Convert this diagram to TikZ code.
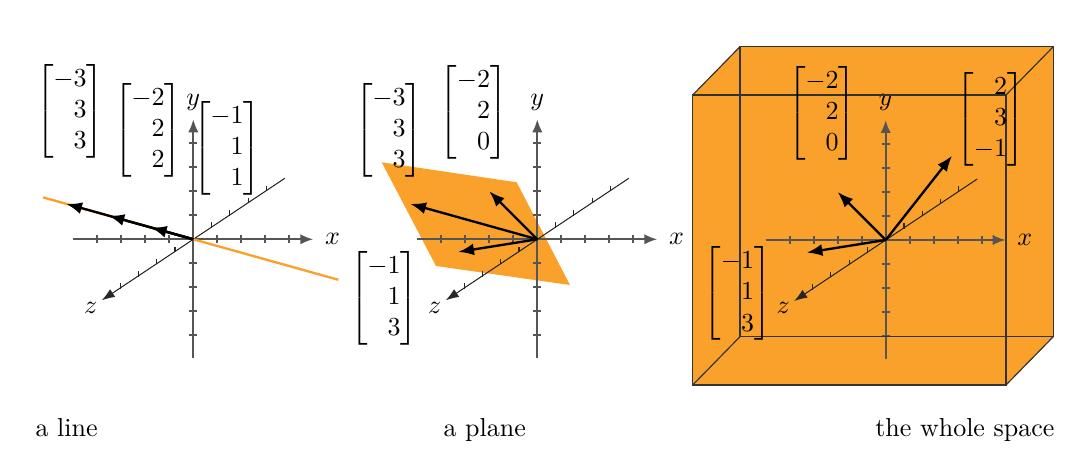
\documentclass[tikz,border=0pt]{standalone}
\usepackage{mathtools}
\usetikzlibrary{arrows.meta}
\definecolor{orng}{RGB}{249,161,43}
\definecolor{axgray}{RGB}{85,85,85}
\tikzset{
  axisline/.style={draw=axgray, line width=0.8pt},
  axarrow/.style={-{Latex[length=5pt,width=4pt]}},
  zaxisline/.style={draw=black!85, line width=0.4pt},
  zarrow/.style={-{Latex[length=5pt,width=3.6pt]}},
  vec/.style={draw=black, line width=0.9pt, -{Latex[length=6pt,width=4.6pt]}},
  lbl/.style={inner sep=0pt},
  mat/.style={inner sep=0pt},
  captxt/.style={inner sep=0pt},
  boxedge/.style={draw=black!80, line width=0.45pt},
  threed/.style={x={(9.2308pt,0pt)}, y={(0pt,9.2308pt)}, z={(-7.038pt,-4.692pt)}}
}
\newcommand{\myaxes}[1]{%
  \draw[axisline,axarrow] (-5,0,0) -- (5,0,0);
  \draw[axisline,axarrow] (0,-4.95,0) -- (0,5,0);
  \foreach \i in {-4,-3,-2,-1,1,2,3,4} {
    \draw[axisline] (\i,-0.17,0) -- (\i,0.17,0);
    \draw[axisline] (-0.17,\i,0) -- (0.17,\i,0);
    \draw[zaxisline] (0,-0.03,\i) -- (0,0.2,\i);
  }
  \draw[zaxisline,zarrow] (0,0,-5) -- (0,0,5);
  \node[lbl] (#1x) at (5.8,0,0) {$x$};
  \node[lbl] (#1y) at (0,5.72,0) {$y$};
  \node[lbl] (#1z) at (0,0,5.6) {$z$};
}
\begin{document}
\begin{tikzpicture}[x=0.384615pt,y=-0.384615pt]
\useasboundingbox (0,0) rectangle (1088,451);

% ---------- left panel: a line ----------
\coordinate (O1) at (193.3,239.3);
\begin{scope}[shift={(O1)}, threed]
  \myaxes{L}
  \draw[orng, line width=0.9pt] (-3.55,3.55,3.55) -- (3.43,-3.43,-3.43);
  \coordinate (Lo) at (0,0,0);
  \coordinate (La) at (-3,3,3);
  \coordinate (Lb) at (-2,2,2);
  \coordinate (Lc) at (-1,1,1);
  \draw[vec] (Lo) -- (La);
  \draw[vec] (Lo) -- (Lb);
  \draw[vec] (Lo) -- (Lc);
\end{scope}
\node[mat] (Lma) at (70,111) {$\begin{bmatrix*}[r]-3\\3\\3\end{bmatrix*}$};
\node[mat] (Lmb) at (148,130) {$\begin{bmatrix*}[r]-2\\2\\2\end{bmatrix*}$};
\node[mat] (Lmc) at (227,148) {$\begin{bmatrix*}[r]-1\\1\\1\end{bmatrix*}$};

% ---------- middle panel: a plane ----------
\fill[orng] (381.7,162.3) -- (516.7,182.3) -- (570,285) -- (436,266) -- cycle;
\coordinate (O2) at (537.3,239.3);
\begin{scope}[shift={(O2)}, threed]
  \myaxes{M}
  \coordinate (Mo) at (0,0,0);
  \coordinate (Ma) at (-3,3,3);
  \coordinate (Mb) at (-2,2,0);
  \coordinate (Mc) at (-1,1,3);
  \draw[vec] (Mo) -- (Ma);
  \draw[vec] (Mo) -- (Mb);
  \draw[vec] (Mo) -- (Mc);
\end{scope}
\node[mat] (Mma) at (389,130) {$\begin{bmatrix*}[r]-3\\3\\3\end{bmatrix*}$};
\node[mat] (Mmb) at (473.5,112.5) {$\begin{bmatrix*}[r]-2\\2\\0\end{bmatrix*}$};
\node[mat] (Mmc) at (384,298.5) {$\begin{bmatrix*}[r]-1\\1\\3\end{bmatrix*}$};

% ---------- right panel: the whole space ----------
\coordinate (O3) at (885.7,240);
\fill[orng] (692.7,385) -- (1006,385) -- (1053.3,336.7) -- (1053.3,46.7)
  -- (740,46.7) -- (692.7,95) -- cycle;
\begin{scope}[shift={(O3)}, threed]
  \myaxes{R}
\end{scope}
\draw[boxedge] (692.7,95) rectangle (1006,385);
\draw[boxedge] (740,46.7) rectangle (1053.3,336.7);
\draw[boxedge] (692.7,95) -- (740,46.7);
\draw[boxedge] (1006,95) -- (1053.3,46.7);
\draw[boxedge] (1006,385) -- (1053.3,336.7);
\draw[boxedge] (692.7,385) -- (740,336.7);
\begin{scope}[shift={(O3)}, threed]
  \coordinate (Ro) at (0,0,0);
  \coordinate (Ra) at (-2,2,0);
  \coordinate (Rb) at (2,3,-1);
  \coordinate (Rc) at (-1,1,3);
  \draw[vec] (Ro) -- (Ra);
  \draw[vec] (Ro) -- (Rb);
  \draw[vec] (Ro) -- (Rc);
\end{scope}
\node[mat] (Rma) at (822,113) {$\begin{bmatrix*}[r]-2\\2\\0\end{bmatrix*}$};
\node[mat] (Rmb) at (990.5,119.3) {$\begin{bmatrix*}[r]2\\3\\-1\end{bmatrix*}$};
\node[mat] (Rmc) at (737.5,293.7) {$\begin{bmatrix*}[r]-1\\1\\3\end{bmatrix*}$};

% ---------- captions ----------
\node[captxt, anchor=base west] (c1) at (35,437) {a line};
\node[captxt, anchor=base west] (c2) at (443,437) {a plane};
\node[captxt, anchor=base east] (c3) at (1055,437) {the whole space};
\end{tikzpicture}
\end{document}
